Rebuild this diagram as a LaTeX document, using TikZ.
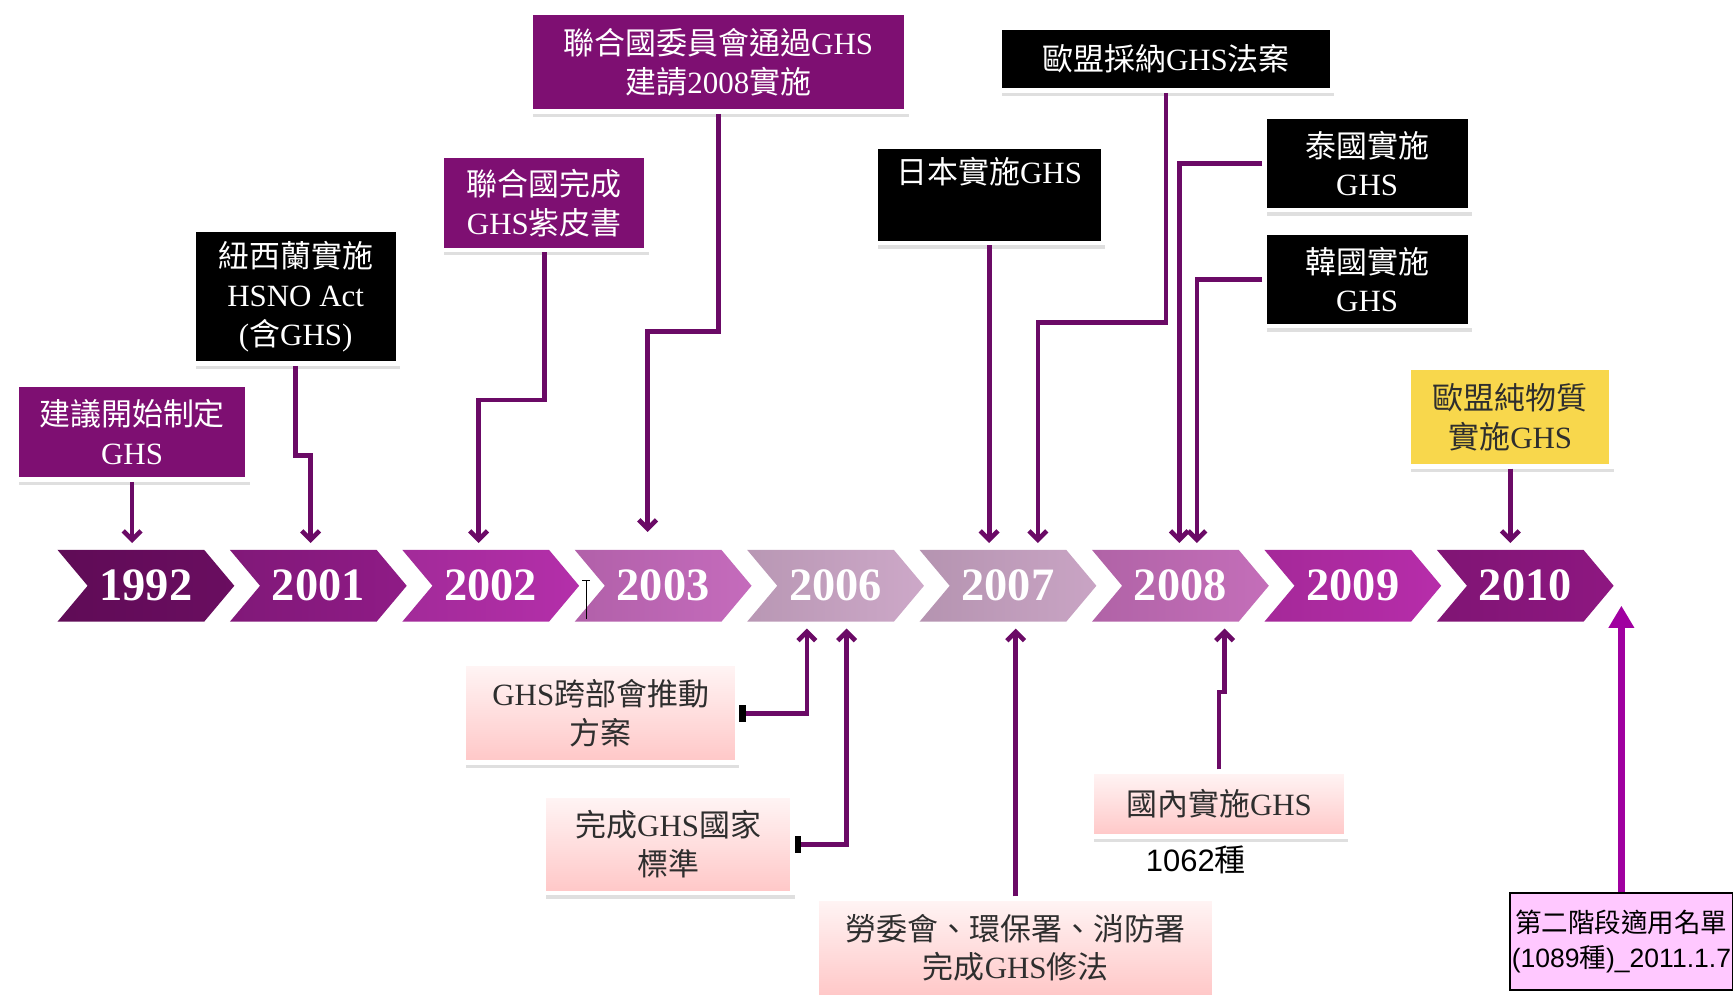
\documentclass[tikz,border=0pt]{standalone}
\usepackage{fontspec}
\setmainfont{Liberation Serif}
\setsansfont{Liberation Sans}
\newfontfamily\cjk{Noto Sans CJK TC}
\newcommand\zh[1]{{\cjk #1}}
\usetikzlibrary{arrows.meta,shapes.symbols,shadows}

\definecolor{plum}{HTML}{7E0F72}
\definecolor{wire}{HTML}{6B0A66}
\definecolor{gold}{HTML}{F8D74C}
\definecolor{lilac}{HTML}{FFC8FF}
\definecolor{bigwire}{HTML}{A000A0}
\definecolor{ink}{HTML}{2E2E2E}
\definecolor{chA}{HTML}{6A0D60}
\definecolor{chB}{HTML}{8F1B86}
\definecolor{chC}{HTML}{B42FAA}
\definecolor{chD}{HTML}{C56BBC}
\definecolor{chE}{HTML}{CDA8C8}
\definecolor{chF}{HTML}{C9A4C4}
\definecolor{chG}{HTML}{C46EB9}
\definecolor{chH}{HTML}{B72DAA}
\definecolor{chI}{HTML}{8E1781}

\begin{document}
\begin{tikzpicture}[x=1pt,y=-1pt,>={Straight Barb[length=8pt,width=16pt]},
  conn/.style={->,wire,line width=4.2pt,shorten >=6pt},
  bigconn/.style={-{Triangle[length=20pt,width=22pt]},bigwire,line width=6pt,shorten >=18pt},
  event/.style={rectangle,draw=white,line width=4pt,align=center,inner sep=0pt,
    font=\fontsize{28}{35}\selectfont,
    drop shadow={shadow xshift=2pt,shadow yshift=-5pt,fill=black!25}},
  dark/.style={event,fill=#1,text=white},
  pinkbox/.style={event,top color=red!4,bottom color=red!22,text=ink},
  year/.style={signal,signal to=east,signal from=west,signal pointer angle=100,
    minimum width=160pt,minimum height=65pt,inner sep=0pt,text=white,
    font=\fontsize{42}{42}\selectfont\bfseries}]
  \useasboundingbox (0,0) rectangle (1568,903);

  % timeline
  \foreach \yr/\c [count=\i from 0] in {1992/chA,2001/chB,2002/chC,2003/chD,
      2006/chE,2007/chF,2008/chG,2009/chH,2010/chI}
    \node (y\yr) at (132+156*\i,530) [year,left color=\c!90!black,right color=\c] {\yr};
  \draw [line width=0.8pt] (527,525) -- (534,525) (530.5,525) -- (530.5,560);

  % events above
  \node (b1992) at (119.5,391) [dark=plum,minimum width=209pt,minimum height=86pt] {\zh{建議開始制定}\\GHS};
  \node (b2001) at (267.5,268.5) [dark=black,minimum width=185pt,minimum height=121pt] {\zh{紐西蘭實施}\\HSNO Act\\(\zh{含}GHS)};
  \node (b2002) at (492.5,183.5) [dark=plum,minimum width=185pt,minimum height=85pt] {\zh{聯合國完成}\\GHS\zh{紫皮書}};
  \node (b2003) at (650,56.5) [dark=plum,minimum width=340pt,minimum height=89pt] {\zh{聯合國委員會通過}GHS\\\zh{建請}2008\zh{實施}};
  \node (bjp) at (895,176.5) [dark=black,minimum width=206pt,minimum height=87pt] {\zh{日本實施}GHS\\\strut};
  \node (beu) at (1055,53.5) [dark=black,minimum width=300pt,minimum height=57pt] {\zh{歐盟採納}GHS\zh{法案}};
  \node (bth) at (1237,148) [dark=black,minimum width=186pt,minimum height=84pt] {\zh{泰國實施}\\GHS};
  \node (bkr) at (1237,253) [dark=black,minimum width=186pt,minimum height=84pt] {\zh{韓國實施}\\GHS};
  \node (beu2) at (1366.5,377.5) [event,fill=gold,text=ink,minimum width=183pt,minimum height=89pt] {\zh{歐盟純物質}\\\zh{實施}GHS};

  \draw [conn] (b1992.south) -- (b1992.south |- y1992.north);
  \draw [conn] (b2001.south) -- ++(0,81) -| ([xshift=-7pt]y2001.north);
  \draw [conn] (b2002.south) -- ++(0,134) -| ([xshift=-11pt]y2002.north);
  \draw [conn] (b2003.south) -- ++(0,197) -| ([xshift=-14pt,yshift=10pt]y2003.north);
  \draw [conn] (bjp.south) -- (bjp.south |- y2007.north);
  \draw [conn] (beu.south) -- ++(0,208) -| ([xshift=27pt]y2007.north);
  \draw [conn] (bth.west) -| ([xshift=-1pt]y2008.north);
  \draw [conn] (bkr.west) -| ([xshift=15pt]y2008.north);
  \draw [conn] (beu2.south) -- (beu2.south |- y2010.north);

  % events below
  \node (p2006a) at (543.5,645.5) [pinkbox,minimum width=247pt,minimum height=89pt] {GHS\zh{跨部會推動}\\\zh{方案}};
  \node (p2006b) at (604.5,764) [pinkbox,minimum width=225pt,minimum height=88pt] {\zh{完成}GHS\zh{國家}\\\zh{標準}};
  \node (p2007) at (919,857.5) [pinkbox,minimum width=360pt,minimum height=89pt] {\zh{勞委會、環保署、消防署}\\\zh{完成}GHS\zh{修法}};
  \node (p2008) at (1103,727.5) [pinkbox,minimum width=230pt,minimum height=59pt] {\zh{國內實施}GHS};
  \node (n1062) at (1082,778) [font=\sffamily\fontsize{28}{28}\selectfont] {1062\zh{種}};
  \node (list) at (1467,852) [rectangle,draw=black,line width=1.5pt,fill=lilac,align=center,
    inner sep=0pt,minimum width=202pt,minimum height=88pt,
    font=\sffamily\fontsize{24}{32}\selectfont] {\zh{第二階段適用名單}\\(1089\zh{種})\_2011.1.7};

  \draw [conn,{Bar[black,width=15pt,line width=6pt]}->] (p2006a.east) -| ([xshift=-26pt]y2006.south);
  \draw [conn,{Bar[black,width=15pt,line width=6pt]}->] (p2006b.east) -| ([xshift=10pt]y2006.south);
  \draw [conn] (p2007.north) -- (p2007.north |- y2007.south);
  \draw [conn] (p2008.north) -- ++(0,-70) -| ([xshift=40pt]y2008.south);
  \draw [bigconn] (list.north) -- (list.north |- y2010.east);
\end{tikzpicture}
\end{document}
